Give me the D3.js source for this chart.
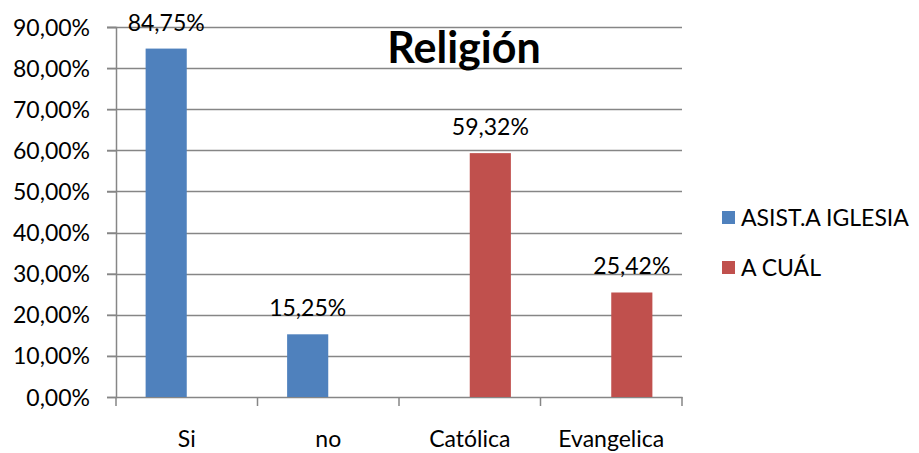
<!DOCTYPE html>
<html>
<head>
<meta charset="utf-8">
<script src="https://cdn.jsdelivr.net/npm/d3@7"></script>
<style>
  body { margin: 0; background: #fff; }
  svg text { font-family: Lato, "Open Sans", sans-serif; fill: #000; }
</style>
</head>
<body>
<svg width="919" height="453"></svg>
<script>
var categories = ["Si", "no", "Católica", "Evangelica"];
var seriesNames = ["ASIST.A IGLESIA", "A CUÁL"];
var seriesColors = ["#4F81BD", "#C0504D"];
// values in %, null where series has no bar
var asistValues = [84.75, 15.25, null, null];
var cualValues = [null, null, 59.32, 25.42];
var yTicks = [0, 10, 20, 30, 40, 50, 60, 70, 80, 90];

var svg = d3.select("svg");
var margin = {left: 116, right: 237, top: 27, bottom: 56};
var width = 919 - margin.left - margin.right,
    height = 453 - margin.top - margin.bottom;

var fmt = function(v) { return v.toFixed(2).replace(".", ",") + "%"; };

var x = d3.scaleBand().domain(categories).range([0, width]).paddingInner(0).paddingOuter(0);
var x1 = d3.scaleBand().domain([0, 1]).range([0, x.bandwidth()]).paddingOuter(0.72).paddingInner(0);
var y = d3.scaleLinear().domain([0, 90]).range([height, 0]);

var g = svg.append("g").attr("transform", "translate(" + margin.left + "," + margin.top + ")");

// gridlines
g.append("g").selectAll("line").data(yTicks.slice(1)).enter().append("line")
    .attr("x1", -9).attr("x2", width)
    .attr("y1", d => Math.round(y(d)) + 0.5).attr("y2", d => Math.round(y(d)) + 0.5)
    .attr("stroke", "#868686").attr("stroke-width", 1.5);

// y axis
var yAxis = g.append("g")
    .call(d3.axisLeft(y).tickValues(yTicks).tickFormat(fmt).tickSize(9).tickPadding(17));
yAxis.select(".domain").attr("stroke", "#868686").attr("stroke-width", 1.5);
yAxis.selectAll(".tick line").attr("stroke", "#868686").attr("stroke-width", 1.5);
yAxis.selectAll("text").style("font-size", "23px").attr("dy", "0.35em");

// x axis
var xAxis = g.append("g").attr("transform", "translate(0," + height + ")")
    .call(d3.axisBottom(x).tickSize(0).tickPadding(34));
xAxis.select(".domain").attr("stroke", "#868686").attr("stroke-width", 1.5);
xAxis.selectAll("text").style("font-size", "23px");
g.append("g").selectAll("line").data(d3.range(categories.length + 1)).enter().append("line")
    .attr("x1", i => i * x.bandwidth()).attr("x2", i => i * x.bandwidth())
    .attr("y1", height).attr("y2", height + 9)
    .attr("stroke", "#868686").attr("stroke-width", 1.5);

// bars
var series = [asistValues, cualValues];
series.forEach(function(vals, s) {
  var data = categories.map((c, i) => ({cat: c, v: vals[i]})).filter(d => d.v != null);
  g.append("g").selectAll("rect").data(data).enter().append("rect")
      .attr("x", d => x(d.cat) + x1(s))
      .attr("width", x1.bandwidth())
      .attr("y", d => y(d.v))
      .attr("height", d => height - y(d.v))
      .attr("fill", seriesColors[s]);
  g.append("g").selectAll("text").data(data).enter().append("text")
      .attr("x", d => x(d.cat) + x1(s) + x1.bandwidth() / 2)
      .attr("y", d => y(d.v) - 18)
      .attr("text-anchor", "middle")
      .style("font-size", "23px")
      .text(d => fmt(d.v));
});

// title
svg.append("text").attr("x", 464).attr("y", 63).attr("text-anchor", "middle")
    .style("font-size", "43px").style("font-weight", "bold").text("Religión");

// legend
var legend = svg.append("g").selectAll("g").data(seriesNames).enter().append("g")
    .attr("transform", (d, i) => "translate(722," + (211 + i * 50) + ")");
legend.append("rect").attr("width", 13).attr("height", 13).attr("fill", (d, i) => seriesColors[i]);
legend.append("text").attr("x", 19).attr("y", 7).attr("dy", "0.35em")
    .style("font-size", "23px").text(d => d);
</script>
</body>
</html>
